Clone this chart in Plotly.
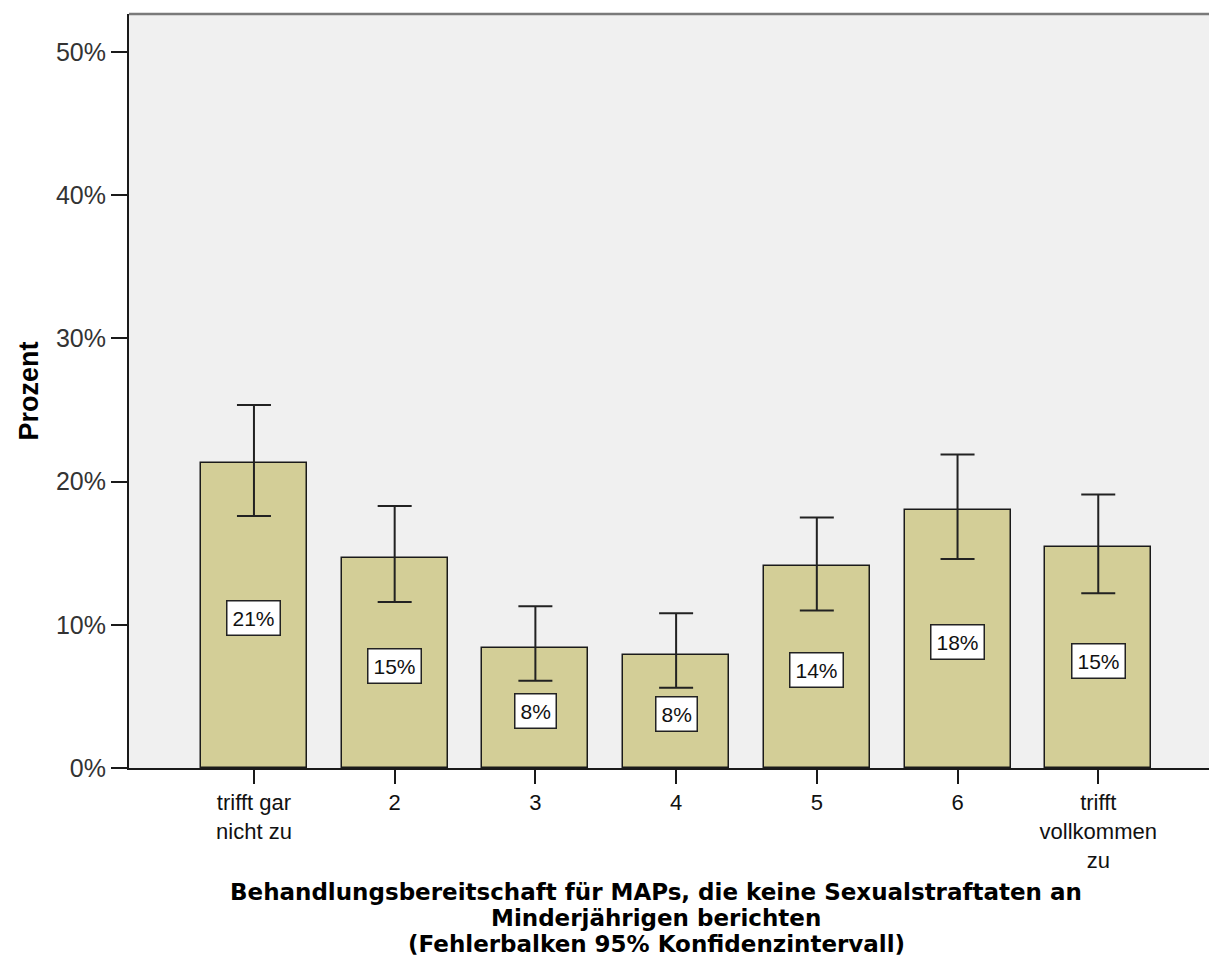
import plotly.graph_objects as go

# Response categories (x axis) and observed percentages with 95% CI bounds
categories = ["trifft gar<br>nicht zu", "2", "3", "4", "5", "6", "trifft<br>vollkommen<br>zu"]
percent = [21.3, 14.7, 8.4, 7.9, 14.1, 18.0, 15.4]
ci_lower = [17.6, 11.6, 6.1, 5.6, 11.0, 14.6, 12.2]
ci_upper = [25.35, 18.3, 11.3, 10.8, 17.5, 21.9, 19.1]
y_ticks = [0, 10, 20, 30, 40, 50]
y_tick_labels = ["0%", "10%", "20%", "30%", "40%", "50%"]
title_lines = [
    "Behandlungsbereitschaft für MAPs, die keine Sexualstraftaten an",
    "Minderjährigen berichten",
    "(Fehlerbalken 95% Konfidenzintervall)",
]
y_title = "Prozent"

W, H = 1209, 978
ML, MR, MT, MB = 129, 0, 14, 210
plot_h = H - MT - MB

FONT = "Liberation Sans, Arial, sans-serif"
TITLE_FONT = "DejaVu Sans, Verdana, sans-serif"
BAR_FILL = "#D3CE97"
PLOT_BG = "#F0F0F0"

x_pos = list(range(len(categories)))

fig = go.Figure()
fig.add_trace(go.Bar(
    x=x_pos,
    y=percent,
    width=0.753,
    marker=dict(color=BAR_FILL, line=dict(color="#1a1a1a", width=1.5)),
    error_y=dict(
        type="data",
        symmetric=False,
        array=[u - p for u, p in zip(ci_upper, percent)],
        arrayminus=[p - l for p, l in zip(percent, ci_lower)],
        color="#222222",
        thickness=2,
        width=17,
    ),
    hoverinfo="skip",
    showlegend=False,
))

# Value labels in white boxes at mid-bar height
for xi, p in zip(x_pos, percent):
    fig.add_annotation(
        x=xi, y=p / 2, xref="x", yref="y",
        text=f"{round(p)}%",
        showarrow=False,
        font=dict(family=FONT, size=21, color="#111111"),
        bgcolor="white",
        bordercolor="#222222",
        borderwidth=1.5,
        borderpad=5,
        yshift=-3,
    )

# Multi-line axis title below the plot, one annotation per line
title_px = [892, 918, 944]
for line, py in zip(title_lines, title_px):
    fig.add_annotation(
        x=(656 - ML) / (W - ML - MR), y=(H - MB - py) / plot_h,
        xref="paper", yref="paper",
        text=f"<b>{line}</b>",
        showarrow=False,
        xanchor="center", yanchor="middle",
        font=dict(family=TITLE_FONT, size=23, color="black"),
    )

# Grey frame line along the top of the plot area
fig.add_shape(type="line", xref="paper", yref="paper", x0=0, x1=1, y0=1, y1=1,
              line=dict(color="#7a7a7a", width=2.5))

fig.update_layout(
    width=W, height=H,
    margin=dict(l=ML, r=MR, t=MT, b=MB),
    paper_bgcolor="white",
    plot_bgcolor=PLOT_BG,
    font=dict(family=FONT),
    bargap=0,
)

fig.update_xaxes(
    range=[-0.888, 6.787],
    tickmode="array",
    tickvals=x_pos,
    ticktext=categories,
    ticks="outside",
    ticklen=14,
    tickwidth=1.5,
    tickcolor="#1a1a1a",
    tickfont=dict(family=FONT, size=22, color="#111111"),
    showline=True,
    linecolor="#1a1a1a",
    linewidth=2,
    showgrid=False,
    zeroline=False,
)

fig.update_yaxes(
    range=[0, plot_h / 14.32],
    tickmode="array",
    tickvals=y_ticks,
    ticktext=y_tick_labels,
    ticks="outside",
    ticklen=16,
    tickwidth=1.5,
    tickcolor="#1a1a1a",
    tickfont=dict(family=FONT, size=25, color="#333333"),
    showline=True,
    linecolor="#1a1a1a",
    linewidth=2,
    showgrid=False,
    zeroline=False,
    title=dict(text=f"<b>{y_title}</b>", font=dict(family=FONT, size=27, color="black"), standoff=10),
)

fig.write_html("out.html")
